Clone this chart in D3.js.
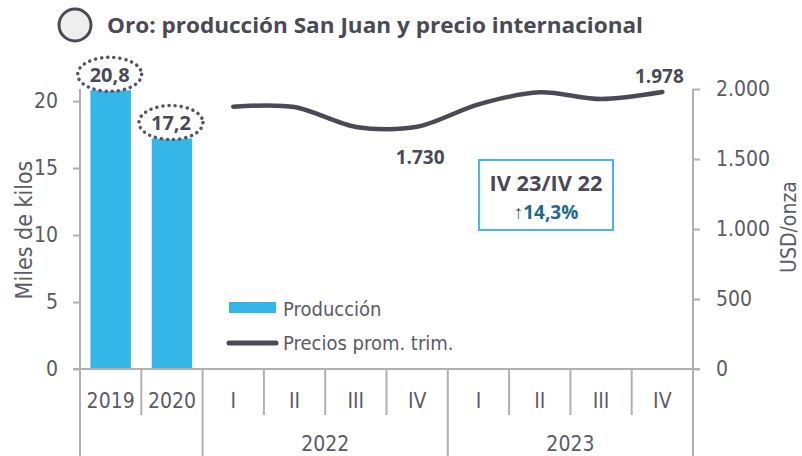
<!DOCTYPE html>
<html>
<head>
<meta charset="utf-8">
<script src="https://cdn.jsdelivr.net/npm/d3@7"></script>
<style>
  body { margin: 0; background: #fff; }
  text { font-family: "Open Sans", "Noto Sans", sans-serif; }
  .lt { font-family: "DejaVu Sans Condensed", "Open Sans", sans-serif; }
</style>
</head>
<body>
<div id="chart"></div>
<script>
// categories along the x axis (one band each)
var catLabels = ["2019", "2020", "I", "II", "III", "IV", "I", "II", "III", "IV"];
// second row: year groups and how many bands each spans
var groupLabels = ["", "2022", "2023"];
var groupSizes = [2, 4, 4];
// production (thousand kg), annual 2019 and 2020
var prodLabels = ["2019", "2020"];
var production = [20.8, 17.2];
// average quarterly gold price (USD/oz), 2022 I .. 2023 IV
var priceLabels = ["I 22", "II 22", "III 22", "IV 22", "I 23", "II 23", "III 23", "IV 23"];
var prices = [1874, 1871, 1729, 1730, 1890, 1976, 1928, 1978];
var leftTicks = [0, 5, 10, 15, 20];
var rightTicks = [0, 500, 1000, 1500, 2000];

(function () {
  var width = 802;
  var height = 456;

  var svg = d3.select("#chart")
    .append("svg")
    .attr("width", width)
    .attr("height", height);

  var es = d3.formatLocale({ decimal: ",", thousands: ".", grouping: [3] });
  var fmtThousands = es.format(",.0f");
  var fmtDec = es.format(".1f");

  var axisColor = "#b0b0b0";
  var textColor = "#5b5b66";
  var dark = "#4a4a55";

  var x = d3.scaleBand().domain(d3.range(catLabels.length)).range([80, 693]);
  var yLeft = d3.scaleLinear().domain([0, 20.9]).range([369, 89]);
  var yRight = d3.scaleLinear().domain([0, 2000]).range([369, 89]);

  // title
  svg.append("circle")
    .attr("cx", 75).attr("cy", 25).attr("r", 16)
    .attr("fill", "#eeeeee")
    .attr("stroke", dark)
    .attr("stroke-width", 3);
  svg.append("text")
    .attr("x", 107).attr("y", 33)
    .attr("font-size", 22)
    .attr("font-weight", "bold")
    .attr("fill", dark)
    .attr("textLength", 536)
    .attr("lengthAdjust", "spacingAndGlyphs")
    .text("Oro: producción San Juan y precio internacional");

  // bars
  var barW = x.bandwidth() * 0.66;
  svg.selectAll(".bar")
    .data(production)
    .enter().append("rect")
    .attr("class", "bar")
    .attr("x", function (d, i) { return x(i) + (x.bandwidth() - barW) / 2; })
    .attr("y", function (d) { return yLeft(d); })
    .attr("width", barW)
    .attr("height", function (d) { return yLeft(0) - yLeft(d); })
    .attr("fill", "#35b6e8");

  // bar labels with dotted ellipses
  var barLab = svg.selectAll(".barlab")
    .data(production)
    .enter().append("g")
    .attr("class", "barlab")
    .attr("transform", function (d, i) {
      return "translate(" + (x(i) + x.bandwidth() / 2 - 1) + "," + (yLeft(d) - 16) + ")";
    });
  barLab.append("ellipse")
    .attr("rx", 32).attr("ry", 17)
    .attr("fill", "#fff")
    .attr("stroke", "#55555f")
    .attr("stroke-width", 3.5)
    .attr("stroke-linecap", "round")
    .attr("stroke-dasharray", "0.1 6");
  barLab.append("text")
    .attr("text-anchor", "middle")
    .attr("dy", "0.36em")
    .attr("font-size", 20)
    .attr("font-weight", "bold")
    .attr("fill", dark)
    .text(function (d) { return fmtDec(d); });

  // price line
  var offset = production.length;
  var line = d3.line()
    .x(function (d, i) { return x(i + offset) + x.bandwidth() / 2; })
    .y(function (d) { return yRight(d); })
    .curve(d3.curveCardinal.tension(0.1));
  svg.append("path")
    .datum(prices)
    .attr("d", line)
    .attr("fill", "none")
    .attr("stroke", dark)
    .attr("stroke-width", 4.5)
    .attr("stroke-linecap", "round");

  // price labels (min and last)
  var iMin = 3, iLast = prices.length - 1;
  svg.append("text")
    .attr("x", x(iMin + offset) + x.bandwidth() / 2 + 3)
    .attr("y", yRight(prices[iMin]) + 37)
    .attr("text-anchor", "middle")
    .attr("font-size", 19)
    .attr("font-weight", "bold")
    .attr("fill", dark)
    .text(fmtThousands(prices[iMin]));
  svg.append("text")
    .attr("x", x(iLast + offset) + x.bandwidth() / 2 - 3)
    .attr("y", yRight(prices[iLast]) - 9)
    .attr("text-anchor", "middle")
    .attr("font-size", 19)
    .attr("font-weight", "bold")
    .attr("fill", dark)
    .text(fmtThousands(prices[iLast]));

  // annotation box
  var box = svg.append("g").attr("transform", "translate(479,160)");
  box.append("rect")
    .attr("width", 134).attr("height", 70)
    .attr("fill", "#fff")
    .attr("stroke", "#45b9e6")
    .attr("stroke-width", 2);
  box.append("text")
    .attr("x", 67).attr("y", 31)
    .attr("text-anchor", "middle")
    .attr("font-size", 21)
    .attr("font-weight", "bold")
    .attr("fill", dark)
    .attr("textLength", 113)
    .attr("lengthAdjust", "spacingAndGlyphs")
    .text("IV 23/IV 22");
  box.append("text")
    .attr("x", 67).attr("y", 59)
    .attr("text-anchor", "middle")
    .attr("font-size", 19)
    .attr("font-weight", "bold")
    .attr("fill", "#1f6a8a")
    .text("\u2191" + fmtDec((prices[iLast] / prices[iMin] - 1) * 100) + "%");

  // axes
  var gl = svg.append("g")
    .attr("transform", "translate(80,0)")
    .call(d3.axisLeft(yLeft).tickValues(leftTicks).tickSize(7).tickSizeOuter(0).tickPadding(15));
  var gr = svg.append("g")
    .attr("transform", "translate(693,0)")
    .call(d3.axisRight(yRight).tickValues(rightTicks).tickFormat(fmtThousands).tickSize(7).tickSizeOuter(0).tickPadding(16));
  [gl, gr].forEach(function (g) {
    g.select(".domain").remove();
    g.selectAll(".tick line").attr("stroke", axisColor).attr("stroke-width", 2);
    g.selectAll(".tick text")
      .attr("class", "lt")
      .attr("font-size", 21)
      .attr("font-family", null)
      .attr("fill", textColor);
  });

  // axis lines and category grid
  svg.append("line")
    .attr("x1", 80).attr("x2", 80).attr("y1", 89).attr("y2", height)
    .attr("stroke", axisColor).attr("stroke-width", 2);
  svg.append("line")
    .attr("x1", 693).attr("x2", 693).attr("y1", 89).attr("y2", height)
    .attr("stroke", axisColor).attr("stroke-width", 2);
  svg.append("line")
    .attr("x1", 73).attr("x2", 700).attr("y1", 369).attr("y2", 369)
    .attr("stroke", axisColor).attr("stroke-width", 2);

  svg.selectAll(".catdiv")
    .data(d3.range(1, catLabels.length))
    .enter().append("line")
    .attr("class", "catdiv")
    .attr("x1", function (d) { return x(d); })
    .attr("x2", function (d) { return x(d); })
    .attr("y1", 369).attr("y2", 415)
    .attr("stroke", axisColor).attr("stroke-width", 2);

  svg.selectAll(".cat")
    .data(catLabels)
    .enter().append("text")
    .attr("class", "lt")
    .attr("x", function (d, i) { return x(i) + x.bandwidth() / 2; })
    .attr("y", 408)
    .attr("text-anchor", "middle")
    .attr("font-size", 21)
    .attr("fill", textColor)
    .text(function (d) { return d; });

  var starts = [0];
  groupSizes.forEach(function (s, i) { starts.push(starts[i] + s); });
  svg.selectAll(".grpdiv")
    .data(starts.slice(1, -1))
    .enter().append("line")
    .attr("class", "grpdiv")
    .attr("x1", function (d) { return x(d); })
    .attr("x2", function (d) { return x(d); })
    .attr("y1", 415).attr("y2", height)
    .attr("stroke", axisColor).attr("stroke-width", 2);
  svg.selectAll(".grp")
    .data(groupLabels)
    .enter().append("text")
    .attr("class", "lt")
    .attr("x", function (d, i) {
      return (x(starts[i]) + x(starts[i + 1] - 1) + x.bandwidth()) / 2;
    })
    .attr("y", 451)
    .attr("text-anchor", "middle")
    .attr("font-size", 21)
    .attr("fill", textColor)
    .text(function (d) { return d; });

  // axis titles
  svg.append("text")
    .attr("class", "lt")
    .attr("transform", "translate(32,230) rotate(-90)")
    .attr("text-anchor", "middle")
    .attr("font-size", 23)
    .attr("fill", textColor)
    .text("Miles de kilos");
  svg.append("text")
    .attr("class", "lt")
    .attr("transform", "translate(796,227) rotate(-90)")
    .attr("text-anchor", "middle")
    .attr("font-size", 21)
    .attr("fill", textColor)
    .text("USD/onza");

  // legend
  var lg = svg.append("g").attr("transform", "translate(229,0)");
  lg.append("rect")
    .attr("x", 0).attr("y", 302).attr("width", 47).attr("height", 11)
    .attr("fill", "#35b6e8");
  lg.append("text")
    .attr("class", "lt")
    .attr("x", 54).attr("y", 309).attr("dy", "0.35em")
    .attr("font-size", 20).attr("fill", textColor)
    .text("Producción");
  lg.append("line")
    .attr("x1", 0).attr("x2", 47).attr("y1", 343).attr("y2", 343)
    .attr("stroke", dark).attr("stroke-width", 5).attr("stroke-linecap", "round");
  lg.append("text")
    .attr("class", "lt")
    .attr("x", 54).attr("y", 343).attr("dy", "0.35em")
    .attr("font-size", 20).attr("fill", textColor)
    .text("Precios prom. trim.");
})();
</script>
</body>
</html>
